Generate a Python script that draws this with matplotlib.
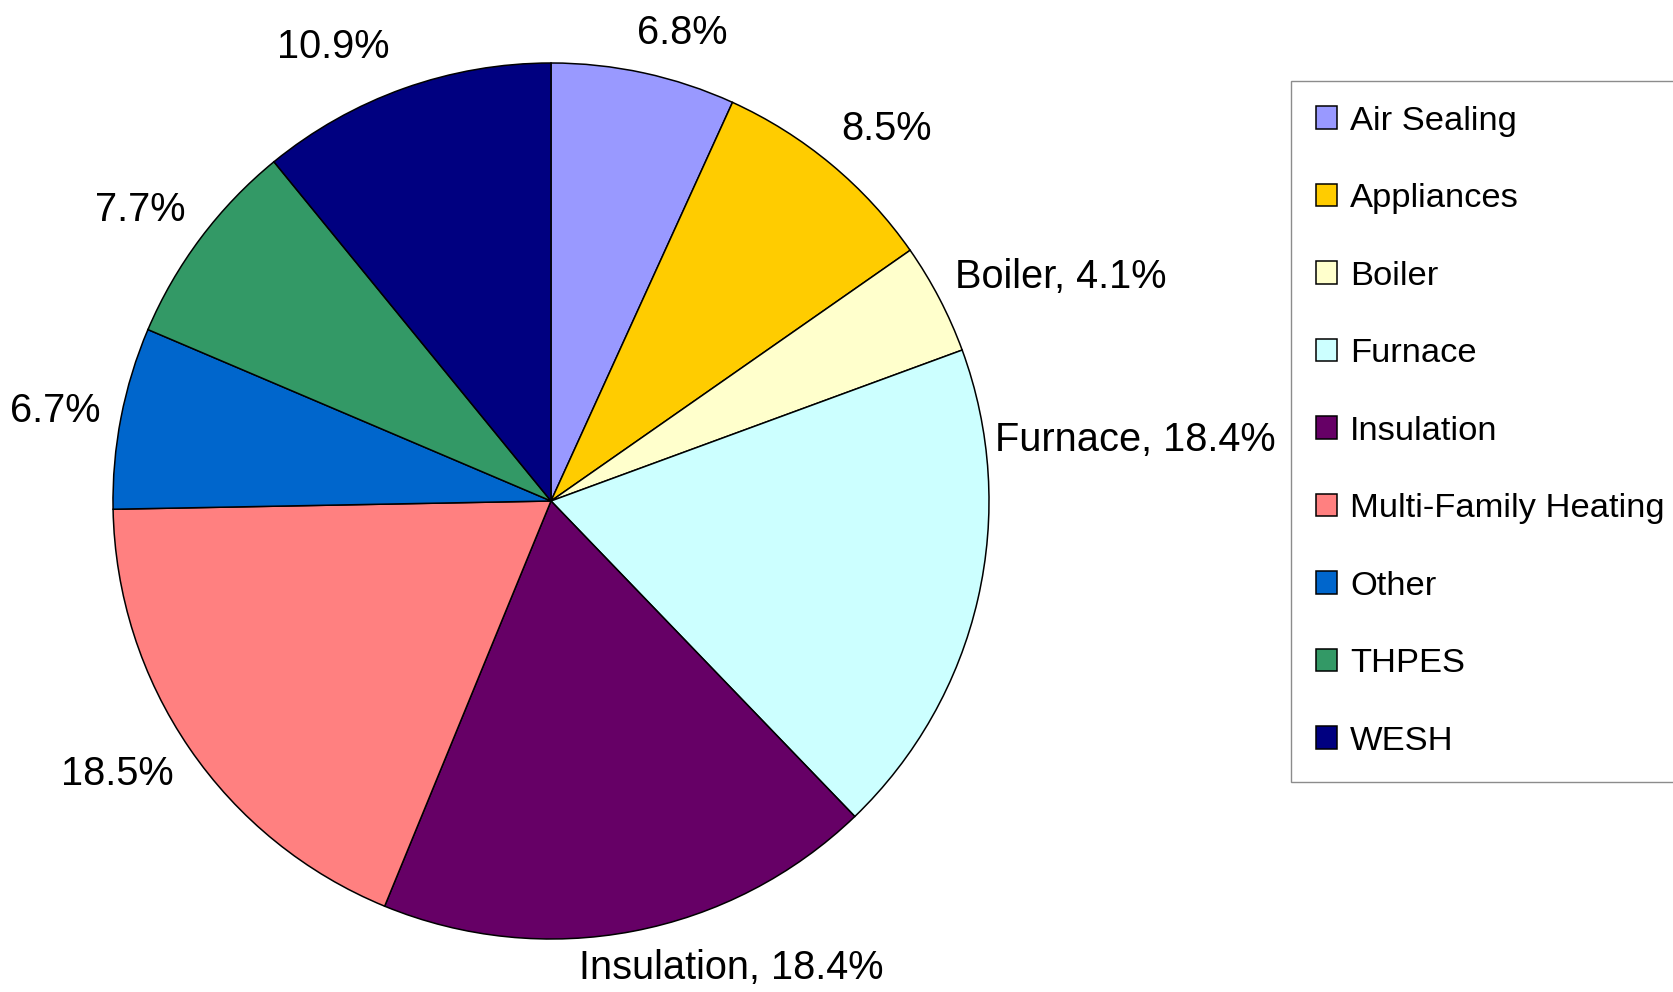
import matplotlib
matplotlib.use('Agg')
import matplotlib.pyplot as plt
import numpy as np

plt.rcParams['font.family'] = ['Liberation Sans', 'DejaVu Sans']

categories = ['Air Sealing', 'Appliances', 'Boiler', 'Furnace', 'Insulation',
              'Multi-Family Heating', 'Other', 'THPES', 'WESH']
shares = [6.8, 8.5, 4.1, 18.4, 18.4, 18.5, 6.7, 7.7, 10.9]
colors = ['#9999FF', '#FFCC00', '#FFFFCC', '#CCFFFF', '#660066',
          '#FF8080', '#0066CC', '#339966', '#000080']
# slices whose label also shows the category name
named = ['Boiler', 'Furnace', 'Insulation']

# label placement tweaks (angle shift in degrees, radius)
nudge = {'Air Sealing': (-2.5, 1.07), 'Appliances': (-0.5, 1.08),
         'Furnace': (20.5, 1.025), 'Insulation': (6.0, 1.08),
         'Other': (0.0, 1.05), 'WESH': (4.3, 1.1)}

W, H = 1674, 992
cx, cy, R = 551, 491, 438

fig = plt.figure(figsize=(W / 100, H / 100), dpi=100)
ax = fig.add_axes([0, 0, 1, 1])

wedges, _ = ax.pie(shares, colors=colors, startangle=90, counterclock=False,
                   radius=1.0, wedgeprops=dict(edgecolor='black', linewidth=1.1))
ax.set_aspect('auto')
ax.set_xlim(-cx / R, (W - cx) / R)
ax.set_ylim(-cy / R, (H - cy) / R)
ax.axis('off')

fig.canvas.draw()
rend = fig.canvas.get_renderer()
for w, cat, val in zip(wedges, categories, shares):
    th = 0.5 * (w.theta1 + w.theta2)
    r = 1.07
    if cat in nudge:
        th += nudge[cat][0]
        r = nudge[cat][1]
    txt = f'{cat}, {val}%' if cat in named else f'{val}%'
    t = ax.text(0, 0, txt, fontsize=28.6, ha='center', va='center')
    bb = t.get_window_extent(renderer=rend)
    hw = bb.width / 2 / R
    hh = bb.height / 2 / R * 0.8
    c, s = np.cos(np.radians(th)), np.sin(np.radians(th))
    t.set_position((r * c + hw * c, r * s + hh * s))

leg = fig.legend(wedges, categories, loc='upper left',
                 bbox_to_anchor=(1291 / W, 1 - 81 / H - 0.01, (1700 - 1291) / W, 0.01),
                 mode='expand', borderaxespad=0, fontsize=24.8,
                 frameon=True, fancybox=False, shadow=False,
                 handlelength=0.63, handleheight=0.63, handletextpad=0.36,
                 labelspacing=1.35, borderpad=0.72)
leg.get_frame().set_edgecolor('#707070')
leg.get_frame().set_linewidth(1.0)
for h in leg.legend_handles:
    h.set_linewidth(1.1)
    h.set_edgecolor('black')

fig.savefig('out.png', dpi=100)
